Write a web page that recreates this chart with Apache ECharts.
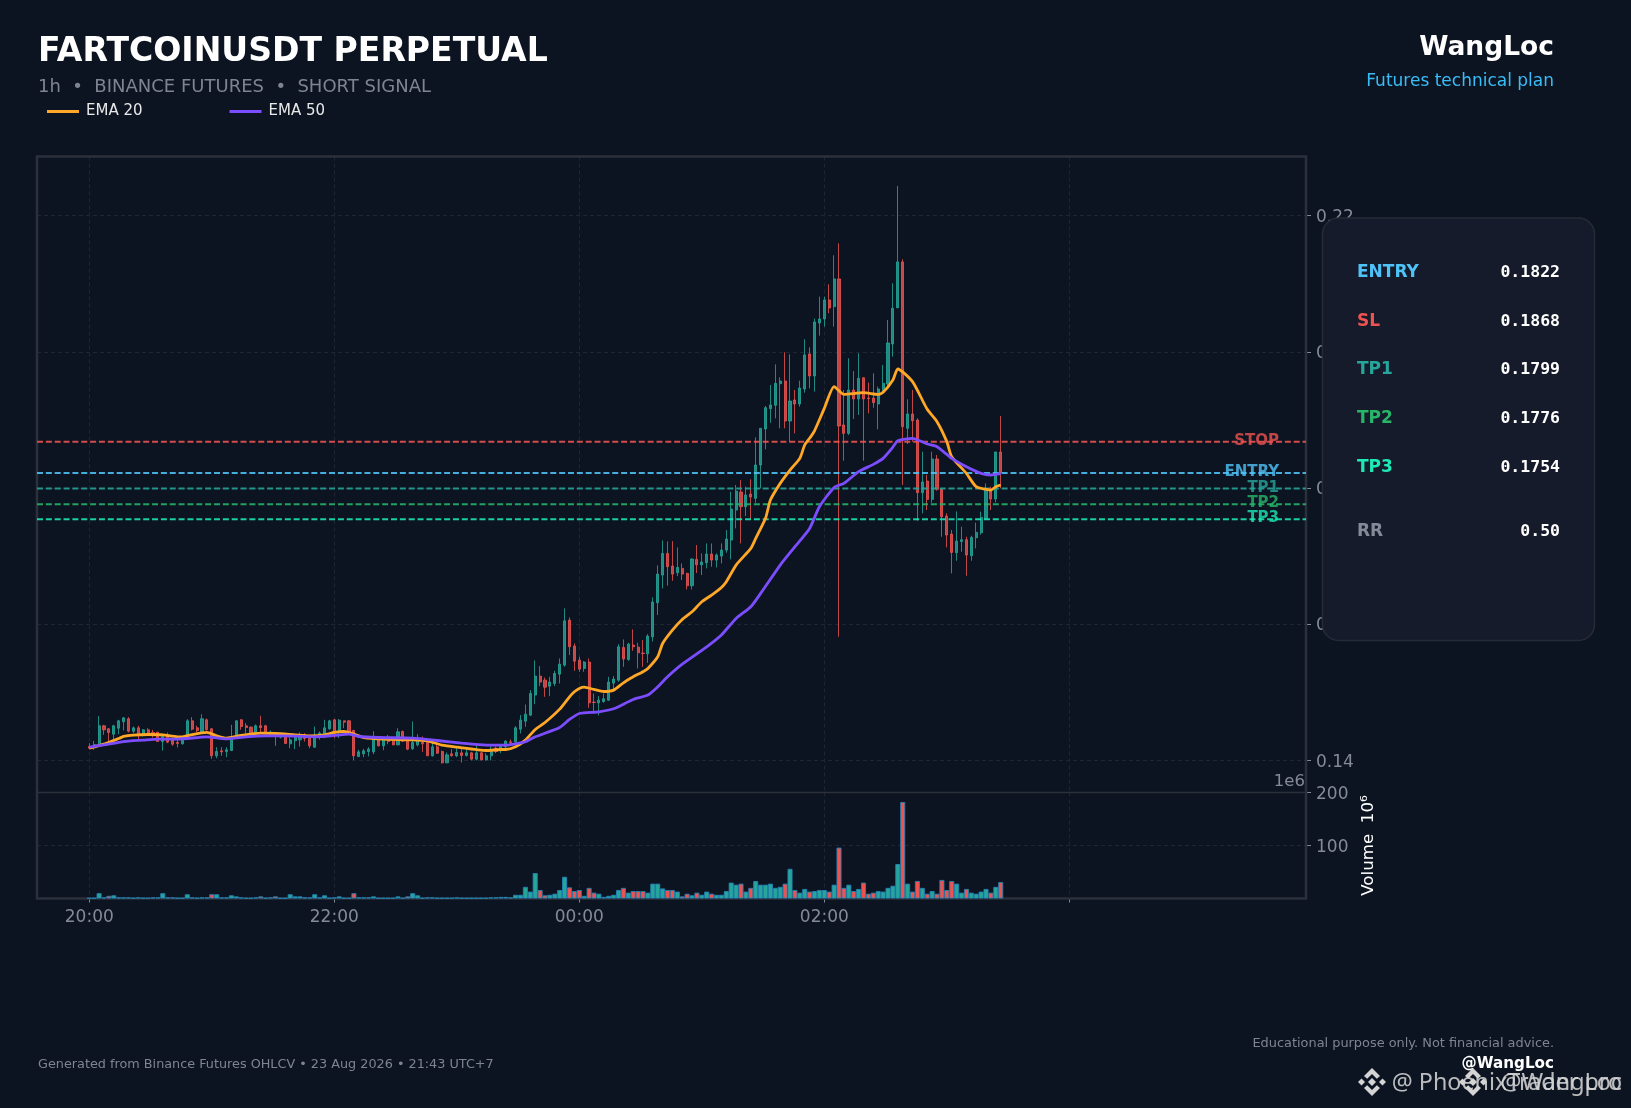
<!DOCTYPE html>
<html><head><meta charset="utf-8">
<script src="https://cdn.jsdelivr.net/npm/echarts@6/dist/echarts.min.js"></script>
<style>html,body{margin:0;padding:0;background:#0d1421}#c{width:1631px;height:1108px}</style>
</head><body><div id="c"></div>
<script>
const opens=[.14201,.14191,.14211,.14505,.14461,.14382,.14470,.14564,.14608,.14426,
.14475,.14382,.14446,.14407,.14412,.14274,.14348,.14299,.14260,.14240,
.14372,.14578,.14475,.14412,.14593,.14461,.14064,.14137,.14127,.14142,
.14348,.14593,.14505,.14485,.14397,.14505,.14505,.14382,.14372,.14338,
.14338,.14240,.14284,.14299,.14358,.14323,.14191,.14338,.14382,.14461,
.14593,.14407,.14578,.14578,.14436,.14054,.14093,.14127,.14122,.14318,
.14211,.14338,.14279,.14225,.14421,.14289,.14167,.14225,.14260,.14260,
.14064,.14196,.14127,.13961,.14093,.14064,.14108,.14069,.14108,.14015,
.14108,.14005,.14064,.14176,.14152,.14196,.14270,.14270,.14456,.14573,
.14662,.14956,.15235,.15176,.15088,.15127,.15264,.15397,.16058,.15676,
.15470,.15348,.15441,.14853,.14843,.14862,.14882,.15132,.15176,.15656,
.15480,.15691,.15661,.15573,.15563,.15813,.16313,.16720,.17038,.16852,
.16754,.16818,.16744,.16563,.16950,.16871,.16901,.17028,.16940,.16999,
.17087,.17234,.17675,.17940,.17724,.17910,.17847,.18337,.18866,.19165,
.19214,.19532,.19571,.18983,.19292,.19233,.19454,.19968,.19645,.20424,
.20483,.20762,.20664,.21071,.18925,.18802,.19439,.19307,.19620,.19321,
.19321,.19233,.19449,.19527,.20115,.20649,.21321,.18876,.19086,.18998,
.17930,.18101,.17832,.18425,.17979,.17587,.17322,.17048,.17214,.17239,
.17004,.17268,.17342,.17553,.17979,.17837,.18528];
const closes=[.14176,.14230,.14505,.14446,.14407,.14505,.14578,.14622,.14426,.14475,
.14372,.14446,.14397,.14372,.14274,.14348,.14265,.14235,.14245,.14323,
.14578,.14456,.14436,.14608,.14446,.14064,.14127,.14122,.14152,.14348,
.14578,.14495,.14480,.14382,.14505,.14480,.14407,.14412,.14348,.14358,
.14245,.14299,.14333,.14348,.14318,.14211,.14323,.14397,.14475,.14578,
.14397,.14588,.14559,.14412,.14064,.14122,.14137,.14162,.14318,.14211,
.14299,.14274,.14225,.14416,.14279,.14162,.14260,.14289,.14240,.14064,
.14196,.14103,.13961,.14078,.14064,.14113,.14069,.14108,.14015,.14108,
.14005,.14064,.14127,.14127,.14201,.14279,.14260,.14475,.14588,.14676,
.14980,.15235,.15147,.15073,.15147,.15274,.15411,.16048,.15666,.15455,
.15338,.15441,.14843,.14848,.14882,.14902,.15147,.15191,.15666,.15485,
.15705,.15666,.15578,.15568,.15823,.16323,.16734,.17038,.16842,.16734,
.16832,.16734,.16563,.16955,.16871,.16911,.17028,.16940,.17014,.17087,
.17249,.17690,.17954,.17724,.17896,.17866,.18337,.18876,.19179,.19219,
.19537,.19571,.18983,.19277,.19233,.19468,.19954,.19645,.20439,.20483,
.20762,.20644,.21071,.18910,.18802,.19439,.19307,.19611,.19307,.19312,
.19253,.19454,.19537,.20130,.20640,.21321,.18900,.19086,.18988,.17930,
.18087,.17832,.18425,.17979,.17577,.17308,.17053,.17219,.17239,.17014,
.17273,.17347,.17567,.17979,.17837,.18528,.18224];
const lows=[.14162,.14152,.14201,.14372,.14274,.14299,.14382,.14436,.14407,.14397,
.14309,.14348,.14372,.14333,.14274,.14142,.14250,.14211,.14186,.14230,
.14348,.14436,.14407,.14397,.14436,.14020,.14029,.14064,.14044,.14137,
.14323,.14446,.14397,.14372,.14382,.14397,.14372,.14348,.14211,.14318,
.14240,.14176,.14162,.14201,.14274,.14176,.14186,.14299,.14323,.14446,
.14323,.14323,.14470,.14397,.14000,.14044,.14044,.14054,.14088,.14201,
.14147,.14235,.14220,.14220,.14270,.14147,.14152,.14201,.14122,.14064,
.14054,.14093,.13951,.13956,.14054,.14044,.13966,.14054,.13995,.13995,
.13995,.13995,.13995,.14103,.14103,.14147,.14221,.14255,.14392,.14490,
.14647,.14823,.15088,.14931,.14941,.15088,.15127,.15372,.15544,.15313,
.15299,.15299,.14769,.14711,.14657,.14843,.14872,.15029,.15152,.15372,
.15460,.15607,.15348,.15372,.15431,.15744,.16132,.16524,.16563,.16636,
.16705,.16646,.16509,.16509,.16749,.16720,.16818,.16842,.16832,.16891,
.17048,.16950,.17406,.17185,.17587,.17538,.17783,.17994,.18567,.18959,
.19023,.18876,.18876,.18680,.18802,.19194,.19400,.19464,.19415,.20238,
.20370,.20566,.20370,.15813,.18400,.18778,.19013,.19072,.18400,.19096,
.19179,.18861,.19380,.19488,.19929,.20640,.18043,.18645,.18680,.17518,
.17626,.17675,.17783,.17959,.17283,.17126,.16744,.16930,.17063,.16710,
.16930,.17112,.17312,.17543,.17675,.17788,.17994];
const highs=[.14250,.14284,.14647,.14519,.14470,.14519,.14593,.14632,.14632,.14495,
.14505,.14456,.14470,.14446,.14412,.14372,.14407,.14323,.14299,.14348,
.14603,.14632,.14505,.14676,.14612,.14470,.14191,.14191,.14191,.14519,
.14588,.14603,.14544,.14495,.14524,.14652,.14519,.14436,.14382,.14372,
.14348,.14338,.14372,.14407,.14397,.14372,.14495,.14421,.14593,.14593,
.14603,.14603,.14578,.14588,.14446,.14152,.14167,.14191,.14426,.14348,
.14323,.14372,.14318,.14470,.14436,.14309,.14568,.14382,.14348,.14299,
.14250,.14225,.14142,.14113,.14162,.14176,.14176,.14176,.14122,.14225,
.14127,.14103,.14201,.14201,.14240,.14294,.14304,.14500,.14662,.14818,
.15029,.15465,.15382,.15215,.15225,.15313,.15495,.16230,.16097,.15715,
.15519,.15455,.15495,.14980,.14941,.14980,.15225,.15235,.15705,.15774,
.15725,.15921,.15725,.15764,.15852,.16391,.16862,.17229,.17214,.17219,
.17126,.16891,.16754,.16965,.17161,.17038,.17185,.17185,.17038,.17185,
.17381,.17945,.18043,.18116,.18018,.18126,.18743,.18876,.19204,.19513,
.19816,.19625,.19993,.19963,.19439,.19576,.20184,.20066,.20488,.20811,
.20811,.20992,.21419,.21595,.19439,.19905,.19718,.19978,.19620,.19547,
.19684,.19488,.19807,.20468,.21007,.22438,.21360,.19302,.19439,.19023,
.18533,.18190,.18533,.18484,.17994,.17626,.17381,.17655,.17430,.17283,
.17298,.17489,.17651,.18067,.18018,.18533,.19057];
const volumes=[1,1,10,2,5,6,2,2,2,1,
2,1,1,2,2,10,2,2,1,1,
8,2,1,2,2,8,8,2,2,6,
4,2,1,1,2,4,1,2,4,1,
1,8,4,4,2,2,8,2,6,1,
2,4,1,1,10,2,2,2,4,1,
1,1,1,4,1,4,10,6,1,2,
2,1,1,1,1,2,1,1,1,1,
1,1,2,2,3,3,2,7,7,22,
13,48,16,6,7,9,16,41,21,14,
16,5,20,11,9,3,5,7,16,20,
11,14,14,14,11,28,28,19,16,16,
13,4,9,6,11,7,13,9,7,7,
14,30,26,28,13,20,33,26,26,28,
20,22,28,56,16,11,18,13,14,16,
16,13,26,96,20,26,14,18,30,9,
11,14,13,20,24,65,182,28,13,33,
20,9,14,9,35,16,33,28,11,18,
11,9,13,18,11,22,31];
const ema20Idx=[0,3,6,7,9,12,15,18,19,21,24,26,28,31,35,38,42,45,48,50,52,54,56,60,65,69,72,75,81,84,85,87,89,91,93,96,98,99,100,101,103,105,107,109,111,113,114,116,117,119,121,123,125,127,129,130,132,135,136,138,139,141,143,145,146,147,148,150,152,154,158,161,162,164,165,168,171,173,175,176,179,181,184,185,186];
const ema20=[.14176,.14235,.14318,.14348,.14368,.14377,.14372,.14343,.14343,.14377,.14407,.14358,.14323,.14363,.14397,.14392,.14372,.14358,.14372,.14407,.14421,.14382,.14333,.14309,.14299,.14284,.14221,.14191,.14142,.14157,.14157,.14196,.14294,.14451,.14554,.14750,.14931,.15005,.15054,.15073,.15039,.15009,.15029,.15137,.15225,.15299,.15348,.15519,.15715,.15911,.16068,.16181,.16328,.16426,.16538,.16622,.16867,.17112,.17258,.17553,.17822,.18067,.18263,.18435,.18631,.18729,.18840,.19170,.19488,.19375,.19400,.19375,.19405,.19586,.19748,.19562,.19155,.18974,.18680,.18459,.18214,.18018,.17969,.18018,.18043];
const ema50Idx=[0,3,7,11,14,18,24,28,32,36,42,46,50,53,55,59,66,71,76,81,85,87,89,91,96,98,100,104,107,111,114,116,118,121,126,129,132,135,137,141,144,147,149,152,154,157,160,162,164,165,168,171,173,176,179,182,184,186];
const ema50=[.14191,.14225,.14274,.14294,.14309,.14309,.14343,.14314,.14343,.14358,.14353,.14343,.14363,.14382,.14348,.14333,.14323,.14289,.14250,.14221,.14221,.14240,.14270,.14343,.14480,.14598,.14686,.14711,.14755,.14892,.14956,.15078,.15225,.15411,.15666,.15840,.16083,.16254,.16450,.16867,.17136,.17405,.17724,.18008,.18067,.18239,.18346,.18435,.18600,.18694,.18729,.18645,.18606,.18435,.18312,.18214,.18190,.18209];
const levelNames=['STOP','ENTRY','TP1','TP2','TP3'];
const levelValues=[.1868,.1822,.1799,.1776,.1754];
const levelColors=['#ef5350','#4fc3f7','#26a69a','#27b56a','#1de9b6'];
const panelNames=['ENTRY','SL','TP1','TP2','TP3','RR'];
const panelValues=['0.1822','0.1868','0.1799','0.1776','0.1754','0.50'];
const panelColors=['#4fc3f7','#ef5350','#26a69a','#27b56a','#1de9b6','#858a99'];
const timeTicks=[0,50,100,150,200];
const timeLabels=['20:00','22:00','00:00','02:00',''];
const priceTicks=[.14,.16,.18,.20,.22];
const volumeTicks=[100,200];

const TEAL='#26a69a',RED='#ef5350',GRID='#1f2533',SPINE='#2b303b',TICK='#858a99',FONT='DejaVu Sans';
const X_MIN=-10.67,X_MAX=248.3,LABEL_X=242.9;
const xBase={type:'value',min:X_MIN,max:X_MAX,
  axisLine:{show:false,onZero:false},
  splitLine:{show:true,lineStyle:{color:GRID,type:[4,3],width:1}},
  axisTick:{show:true,length:4,lineStyle:{color:TICK,width:1},customValues:timeTicks},
  axisLabel:{show:false,customValues:timeTicks}};
const candles=opens.map((o,i)=>[i,o,closes[i],lows[i],highs[i]]);
const volData=volumes.map((v,i)=>({value:[i,v],itemStyle:{color:closes[i]>=opens[i]?TEAL:RED}}));
const zip=(a,b)=>a.map((x,i)=>[x,b[i]]);
const txt=(text,x,y,o)=>({type:'text',z:110,x,y,silent:true,style:Object.assign({text,fontFamily:FONT,fontSize:14,fill:'#fff',align:'left',verticalAlign:'middle'},o)});
function binanceIcon(cx,cy,r,fill){
  const s=r/14;
  const P=(pts)=>({type:'polygon',z:112,silent:true,x:cx,y:cy,shape:{points:pts.map(p=>[p[0]*s,p[1]*s])},style:{fill}});
  return [
    P([[0,-14],[8,-6],[4.8,-3.2],[0,-8],[-4.8,-3.2],[-8,-6]]),
    P([[0,14],[8,6],[4.8,3.2],[0,8],[-4.8,3.2],[-8,6]]),
    P([[-14,0],[-10.5,-3.5],[-7,0],[-10.5,3.5]]),
    P([[14,0],[10.5,-3.5],[7,0],[10.5,3.5]]),
    P([[0,-4],[4,0],[0,4],[-4,0]])
  ];
}
const graphics=[
  {type:'rect',z:2,silent:true,shape:{x:37,y:156.5,width:1269,height:742},style:{fill:'none',stroke:SPINE,lineWidth:2.5}},
  txt('FARTCOINUSDT PERPETUAL',38,52,{fontSize:33.1,fontWeight:'bold'}),
  txt('1h  •  BINANCE FUTURES  •  SHORT SIGNAL',38,87,{fontSize:18,fill:'#7f8492'}),
  txt('WangLoc',1554,48,{fontSize:26.5,fontWeight:'bold',align:'right'}),
  txt('Futures technical plan',1554,82,{fontSize:17,fill:'#38bdf8',align:'right'}),
  {type:'rect',z:105,silent:true,shape:{x:1322.5,y:218,width:272,height:422.5,r:16},style:{fill:'#151b2a',stroke:'#252b38',lineWidth:1.5}},
  txt('1e6',1305,782,{fontSize:16.5,fill:TICK,align:'right'}),
  txt('Generated from Binance Futures OHLCV • 23 Aug 2026 • 21:43 UTC+7',38,1065,{fontSize:12.8,fill:'#7f8492'}),
  txt('Educational purpose only. Not financial advice.',1554,1044,{fontSize:12.9,fill:'#7f8492',align:'right'}),
  txt('@WangLoc',1554,1064,{fontSize:15.2,fontWeight:'bold',align:'right'}),
  txt('@ PhoenixTrader pro',1622,1083,{fontSize:23.3,fontFamily:'Noto Sans',fill:'#d4d4d4',align:'right',opacity:.88}),
  txt('@WangLoc',1622,1083,{fontSize:23.3,fontFamily:'Noto Sans',fill:'#d4d4d4',align:'right',opacity:.88}),
  ...binanceIcon(1372,1082,14,'#d4d4d4'),
  ...binanceIcon(1473,1082,14,'#d4d4d4')
];
const rowY=[273,322,370,419,468,532];
panelNames.forEach((n,i)=>{
  graphics.push(txt(n,1357,rowY[i],{fontSize:17,fontWeight:'bold',fill:panelColors[i]}));
  graphics.push(txt(panelValues[i],1560,rowY[i],{fontSize:16.5,fontWeight:'bold',fontFamily:'DejaVu Sans Mono',align:'right'}));
});
const levelSeries=levelNames.map((n,i)=>({
  type:'line',name:n,xAxisIndex:0,yAxisIndex:0,symbol:'none',silent:true,z:4,
  data:[[X_MIN,levelValues[i]],[X_MAX,levelValues[i]]],
  lineStyle:{color:levelColors[i],width:2,type:[6,2.85],opacity:.88}
}));
const labelSeries=levelNames.map((n,i)=>({
  type:'scatter',name:n+' label',xAxisIndex:0,yAxisIndex:0,symbolSize:1,silent:true,z:6,
  itemStyle:{color:'transparent'},
  data:[[LABEL_X,levelValues[i]]],
  label:{show:true,formatter:n,position:'left',distance:0,offset:[0,-1],color:levelColors[i],fontFamily:FONT,fontSize:15,fontWeight:'bold'}
}));
const chart=echarts.init(document.getElementById('c'),null,{renderer:'canvas'});
chart.setOption({
  animation:false,backgroundColor:'#0d1421',
  graphic:{elements:graphics},
  legend:{left:42,top:99,itemWidth:32,itemHeight:3,itemGap:87,icon:'rect',data:['EMA 20','EMA 50'],
    textStyle:{color:'#e8e8e8',fontFamily:FONT,fontSize:15,padding:[0,0,0,2]}},
  grid:[
    {left:37,top:156.5,width:1269,height:636},
    {left:37,top:792.5,width:1269,height:106}
  ],
  xAxis:[
    Object.assign({gridIndex:0},xBase,{axisLine:{show:true,onZero:false,lineStyle:{color:SPINE,width:1.3}},axisTick:{show:false,customValues:timeTicks}}),
    Object.assign({gridIndex:1},xBase,{axisLabel:{show:true,customValues:timeTicks,margin:11,color:TICK,fontFamily:FONT,fontSize:17,
      formatter:v=>timeLabels[timeTicks.indexOf(v)]||''}})
  ],
  yAxis:[
    {gridIndex:0,type:'value',position:'right',min:.13525,max:.2287,axisLine:{show:false,onZero:false},
     axisTick:{show:true,length:5,lineStyle:{color:TICK},customValues:priceTicks},
     axisLabel:{show:true,customValues:priceTicks,margin:10,verticalAlign:'top',lineHeight:4,color:TICK,fontFamily:FONT,fontSize:17,formatter:v=>v.toFixed(2)},
     splitLine:{show:true,lineStyle:{color:GRID,type:[4,3],width:1}}},
    {gridIndex:1,type:'value',position:'right',min:0,max:200,axisLine:{show:false,onZero:false},
     axisTick:{show:true,length:5,lineStyle:{color:TICK},customValues:volumeTicks},
     axisLabel:{show:true,customValues:volumeTicks,margin:10,verticalAlign:'top',lineHeight:4,color:TICK,fontFamily:FONT,fontSize:17},
     splitLine:{show:true,lineStyle:{color:GRID,type:[4,3],width:1}},
     name:'Volume  10⁶',nameLocation:'middle',nameRotate:90,nameGap:54,nameTextStyle:{color:'#fff',fontFamily:FONT,fontSize:16.7}}
  ],
  series:[
    {type:'candlestick',name:'Price',xAxisIndex:0,yAxisIndex:0,barWidth:2.6,z:3,silent:true,data:candles,
     itemStyle:{color:TEAL,color0:RED,borderColor:TEAL,borderColor0:RED,borderWidth:1,opacity:.8}},
    {type:'bar',name:'Volume',xAxisIndex:1,yAxisIndex:1,barWidth:5,silent:true,data:volData,
     itemStyle:{borderColor:'#2383b5',borderWidth:.9}},
    ...levelSeries,...labelSeries,
    {type:'line',name:'EMA 20',xAxisIndex:0,yAxisIndex:0,showSymbol:false,symbol:'none',smooth:.2,z:5,silent:true,
     data:zip(ema20Idx,ema20),lineStyle:{color:'#ffa726',width:2.8},itemStyle:{color:'#ffa726'}},
    {type:'line',name:'EMA 50',xAxisIndex:0,yAxisIndex:0,showSymbol:false,symbol:'none',smooth:.2,z:5,silent:true,
     data:zip(ema50Idx,ema50),lineStyle:{color:'#7c4dff',width:2.8},itemStyle:{color:'#7c4dff'}}
  ]
});
</script></body></html>
